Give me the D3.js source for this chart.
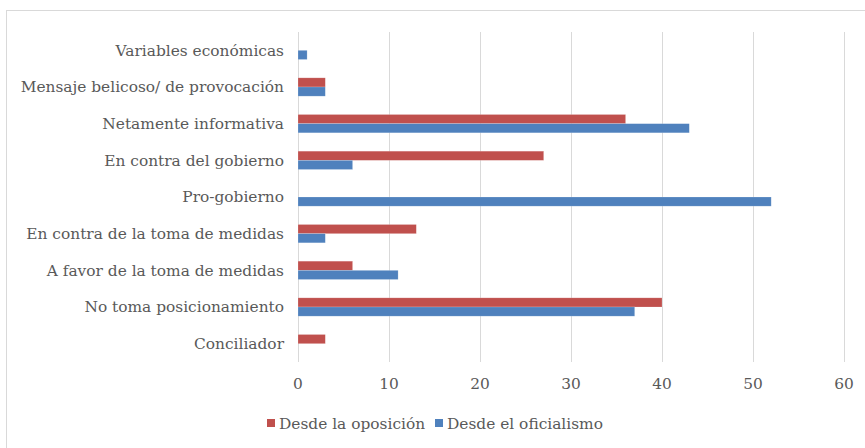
<!DOCTYPE html>
<html>
<head>
<meta charset="utf-8">
<script src="https://cdn.jsdelivr.net/npm/d3@7"></script>
<style>
  body { margin: 0; background: #fff; }
  text { font-family: "DejaVu Serif", "Liberation Serif", serif; fill: #595959; }
</style>
</head>
<body>
<svg id="chart" width="865" height="448"></svg>
<script>
// categories top to bottom
var categories = ["Variables económicas", "Mensaje belicoso/ de provocación", "Netamente informativa",
  "En contra del gobierno", "Pro-gobierno", "En contra de la toma de medidas",
  "A favor de la toma de medidas", "No toma posicionamiento", "Conciliador"];
var seriesNames = ["Desde la oposición", "Desde el oficialismo"];
var oposicion = [0, 3, 36, 27, 0, 13, 6, 40, 3];
var oficialismo = [1, 3, 43, 6, 52, 3, 11, 37, 0];
var xTicks = [0, 10, 20, 30, 40, 50, 60];
var colors = ["#C0504D", "#4F81BD"];

var svg = d3.select("#chart");
var margin = { top: 32, right: 21, bottom: 86, left: 298 };
var width = 865 - margin.left - margin.right;
var height = 448 - margin.top - margin.bottom;

// outer chart border
svg.append("rect")
  .attr("x", 6.5).attr("y", 10.5)
  .attr("width", 870).attr("height", 450)
  .attr("fill", "none").attr("stroke", "#d9d9d9");

var g = svg.append("g").attr("transform", "translate(" + margin.left + "," + margin.top + ")");

var x = d3.scaleLinear().domain([0, 60]).range([0, width]);
var y = d3.scaleBand().domain(categories).range([0, height]).paddingInner(0.5).paddingOuter(0.25);
var ySub = d3.scaleBand().domain(seriesNames).range([0, y.bandwidth()]);

// gridlines
g.selectAll(".grid").data(xTicks).enter().append("line")
  .attr("x1", function(d) { return Math.round(x(d)) + 0.5; })
  .attr("x2", function(d) { return Math.round(x(d)) + 0.5; })
  .attr("y1", 0).attr("y2", height)
  .attr("stroke", "#d9d9d9").attr("stroke-width", 1);

// tick labels
g.selectAll(".tick").data(xTicks).enter().append("text")
  .attr("x", function(d) { return x(d); })
  .attr("y", height + 27)
  .attr("text-anchor", "middle")
  .style("font-size", "15.4px")
  .text(function(d) { return d; });

// category labels
g.selectAll(".cat").data(categories).enter().append("text")
  .attr("x", -14)
  .attr("y", function(d) { return y(d) + y.bandwidth() / 2; })
  .attr("dy", "0.35em")
  .attr("text-anchor", "end")
  .style("font-size", "15.4px")
  .text(function(d) { return d; });

var rows = categories.map(function(c, i) {
  return { cat: c, vals: [oposicion[i], oficialismo[i]] };
});

var rowG = g.selectAll(".row").data(rows).enter().append("g")
  .attr("transform", function(d) { return "translate(0," + y(d.cat) + ")"; });

rowG.selectAll("rect").data(function(d) {
  return d.vals.map(function(v, j) { return { name: seriesNames[j], v: v, j: j }; });
}).enter().filter(function(d) { return d.v > 0; }).append("rect")
  .attr("x", x(0))
  .attr("y", function(d) { return ySub(d.name); })
  .attr("width", function(d) { return x(d.v) - x(0); })
  .attr("height", ySub.bandwidth())
  .attr("fill", function(d) { return colors[d.j]; })
  .attr("stroke", "#fff").attr("stroke-opacity", 0.3).attr("stroke-width", 0.6);

// legend
var legend = svg.append("g").attr("transform", "translate(267,424)");
var legX = [0, 168];
seriesNames.forEach(function(name, i) {
  legend.append("rect")
    .attr("x", legX[i]).attr("y", -5)
    .attr("width", 8).attr("height", 8)
    .attr("fill", colors[i]);
  legend.append("text")
    .attr("x", legX[i] + 12).attr("y", 0)
    .attr("dy", "0.35em")
    .style("font-size", "15.4px")
    .text(name);
});
</script>
</body>
</html>
